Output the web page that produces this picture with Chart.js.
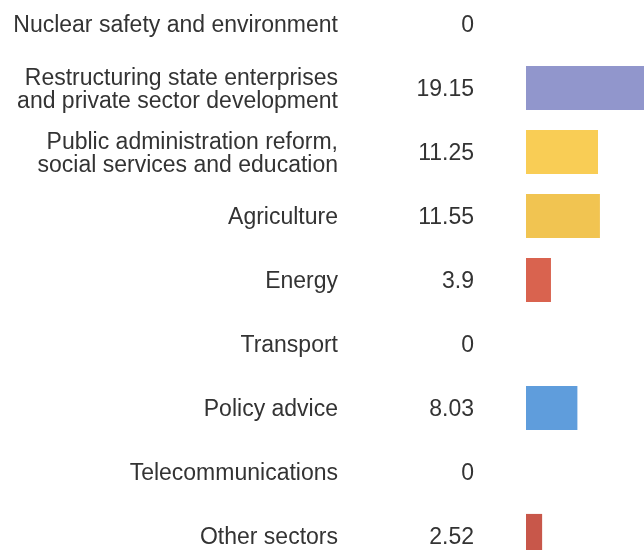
<!DOCTYPE html>
<html>
<head>
<meta charset="utf-8">
<script src="https://cdn.jsdelivr.net/npm/chart.js@4.4.1/dist/chart.umd.min.js"></script>
<style>
  html, body { margin: 0; padding: 0; background: #fff; overflow: hidden; }
  #wrap { position: relative; width: 644px; height: 550px; overflow: hidden; }
  #sectorChart { position: absolute; left: 0; top: -8px; }
</style>
</head>
<body>
<div id="wrap"><canvas id="sectorChart" width="654" height="576"></canvas></div>
<script>
// sectors, top to bottom
var sectors = [
    'Nuclear safety and environment',
    ['Restructuring state enterprises', 'and private sector development'],
    ['Public administration reform,', 'social services and education'],
    'Agriculture',
    'Energy',
    'Transport',
    'Policy advice',
    'Telecommunications',
    'Other sectors'
];
var shares = [0, 19.15, 11.25, 11.55, 3.9, 0, 8.03, 0, 2.52];
var shareLabels = ['0', '19.15', '11.25', '11.55', '3.9', '0', '8.03', '0', '2.52'];
var barColors = ['#9196cc', '#9196cc', '#f9cd55', '#f1c451', '#d9634f', '#5f9ddc', '#5f9ddc', '#5f9ddc', '#c8574a'];

var textFont = { family: '"Liberation Sans", Arial, sans-serif', size: 23, lineHeight: 1.0 };

// fixed column widths, no extra top/bottom padding from the labels
function fixWidth(w) {
    return function(scale) {
        scale.width = w;
        scale.paddingTop = 0;
        scale.paddingBottom = 0;
    };
}

var ctx = document.getElementById('sectorChart').getContext('2d');
var sectorChart = new Chart(ctx, {
    type: 'bar',
    data: {
        labels: sectors,
        datasets: [{
            data: shares,
            backgroundColor: barColors,
            borderWidth: 0,
            categoryPercentage: 0.69,
            barPercentage: 1,
            yAxisID: 'y'
        }]
    },
    options: {
        indexAxis: 'y',
        responsive: false,
        animation: false,
        layout: { padding: 0 },
        plugins: {
            legend: { display: false },
            tooltip: { enabled: false }
        },
        scales: {
            x: {
                display: false,
                min: 0,
                max: 20
            },
            y: {
                position: 'left',
                weight: 2,
                offset: true,
                grid: { display: false },
                border: { display: false },
                afterFit: fixWidth(346),
                ticks: {
                    color: '#333333',
                    font: textFont,
                    padding: 0,
                    labelOffset: 2,
                    autoSkip: false
                }
            },
            values: {
                type: 'category',
                axis: 'y',
                position: 'left',
                weight: 1,
                offset: true,
                labels: shareLabels,
                grid: { display: false },
                border: { display: false },
                afterFit: fixWidth(180),
                ticks: {
                    color: '#333333',
                    font: textFont,
                    padding: 44,
                    labelOffset: 2,
                    autoSkip: false
                }
            }
        }
    }
});
</script>
</body>
</html>
